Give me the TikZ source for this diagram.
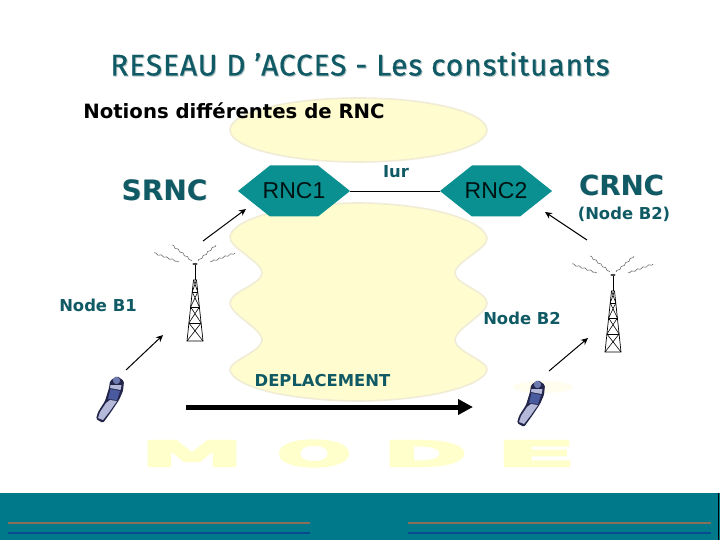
\documentclass[tikz,border=0pt]{standalone}
\usepackage{fontspec}
\setmainfont{DejaVu Sans}
\newfontfamily\titlefont[LetterSpace=3,FakeBold=0.6]{Fira Sans}
\newfontfamily\arialfont{Liberation Sans}
\newfontfamily\wmfont[FakeBold=5]{DejaVu Sans Bold}
\usetikzlibrary{arrows.meta,shapes.symbols,decorations.pathmorphing}
\definecolor{tealdark}{HTML}{0F5A64}
\definecolor{hexfill}{HTML}{0A9090}
\definecolor{band}{HTML}{007A8A}
\definecolor{blob}{HTML}{FFFCD0}
\definecolor{blobedge}{HTML}{F0ECD6}
\definecolor{wm}{HTML}{FFFFCC}
\definecolor{shadowc}{HTML}{B5C4C6}
\definecolor{ph}{HTML}{23264A}
\definecolor{phbody}{HTML}{B4B9DA}
\definecolor{phscreen}{HTML}{4A5A9E}
\definecolor{linebrown}{HTML}{8A6F58}
\definecolor{lineblue}{HTML}{0A4A90}
\newcommand{\hexlabel}[1]{\makebox[48pt][c]{#1}}
\tikzset{
  hexnode/.style={signal,signal to=west and east,signal pointer angle=77,fill=hexfill,inner sep=0pt,
     minimum height=51pt,text=black!85!teal,font=\arialfont\fontsize{23}{23}\selectfont},
  blabel/.style={font=\bfseries\fontsize{#1}{#1}\selectfont,text=tealdark,inner sep=0pt},
  thinarrow/.style={draw=black,line width=1pt,-{Stealth[length=7pt,width=6.5pt]}},
  wmletter/.style={text=wm,font=\wmfont\fontsize{35}{35}\selectfont,inner sep=0pt},
  blobshape/.style={fill=blob,draw=blobedge,line width=1.6pt},
  squiggle/.style={draw=black!65,line width=.5pt,decorate,decoration={zigzag,amplitude=.7pt,segment length=6pt}},
  tower/.pic={
    \draw[line width=.8pt] (0,0)--(0,17);
    \fill[black!70] (0,1) ellipse (2.6pt and 1.1pt);
    \draw[line width=.7pt] (-1.5,17)--(-8,78)--(8,78)--(1.5,17)--cycle;
    \draw[line width=.7pt] (-2.8,29)--(2.8,29) (-4.4,44)--(4.4,44) (-6.1,60)--(6.1,60);
    \draw[line width=.6pt] (-2.8,29)--(4.4,44) (2.8,29)--(-4.4,44) (-4.4,44)--(6.1,60) (4.4,44)--(-6.1,60)
       (-6.1,60)--(8,78) (6.1,60)--(-8,78) (-1.5,17)--(2.8,29) (1.5,17)--(-2.8,29);
    \draw[squiggle] (-41,-10)--(-16,-1);
    \draw[squiggle] (-23,-18)--(-3,-2);
    \draw[squiggle] (21,-18)--(3,-2);
    \draw[squiggle] (40,-10)--(15,-1);
  },
  handset/.pic={
    \fill[ph,rounded corners=1.5pt] (-7,5)--(0,0)--(7,5)--(6,15)--(2,24)--(-6,36)--(-14,47)--(-21,43)--(-19,36)--(-12,25)--(-8,12)--cycle;
    \fill[phbody] (-7,24)--(0,25)--(-7,35)--(-14,44)--(-19,42)--(-17,36)--(-11,27)--cycle;
    \fill[phscreen] (-6.5,13)--(3,15)--(0,24)--(-9,23)--cycle;
    \fill[phbody] (-6.5,9)--(4.5,9)--(3.5,14)--(-7,12)--cycle;
    \fill[phscreen!80!white] (-.5,4.5) circle (3.6pt);
  },
}
\begin{document}
\begin{tikzpicture}[x=1pt,y=-1pt]
\useasboundingbox (0,0) rectangle (720,540);
\fill[white] (0,0) rectangle (720,540);
% pale background shapes
\fill[blobshape] (358.5,130) ellipse (128.5pt and 32pt);
\path[blobshape] plot[smooth cycle,tension=.62] coordinates {(358,203) (445,213) (487,238) (455,273) (487,303) (455,340) (487,370) (445,392) (358,401) (270,392) (230,370) (262,340) (230,303) (262,273) (230,237) (270,213)};
\fill[blob!35!white] (543,387) ellipse (30pt and 6pt);
% watermark
\node[wmletter,xscale=2.95] (wmM) at (192,453.5) {M};
\node[wmletter,xscale=2.5] (wmO) at (314,453.5) {O};
\node[wmletter,xscale=2.9] (wmD) at (425,453.5) {D};
\node[wmletter,xscale=3.35] (wmE) at (536,453.5) {E};
% footer band
\fill[band] (0,493) rectangle (720,540);
\draw[black,line width=.8pt] (718.6,493)--(718.6,540);
\draw[draw=linebrown,line width=1.1pt] (8,523)--(310,523) (408,523)--(711,523);
\draw[draw=lineblue,line width=1.1pt] (8,533)--(310,533) (408,533)--(711,533);
% title and labels
\node[text=shadowc,inner sep=0pt,font=\titlefont\fontsize{29.9}{29.9}\selectfont] at (361,65) {RESEAU D ’ACCES - Les constituants};
\node[text=tealdark,inner sep=0pt,font=\titlefont\fontsize{29.9}{29.9}\selectfont] (title) at (360,64) {RESEAU D ’ACCES - Les constituants};
\node[inner sep=0pt,font=\bfseries\fontsize{19.7}{19.7}\selectfont] (notions) at (234,111) {Notions différentes de RNC};
\node[blabel=28,text=shadowc] at (165.3,190.8) {SRNC};
\node[blabel=28] (srnc) at (164.5,190) {SRNC};
\node[blabel=27.6,text=shadowc] at (622.3,185.8) {CRNC};
\node[blabel=27.6] (crnc) at (621.5,185) {CRNC};
\node[blabel=16.4] (crncsub) at (624,214) {(Node B2)};
\node[blabel=16.4] (nb1) at (98,305) {Node B1};
\node[blabel=16.4] (nb2) at (522,318) {Node B2};
\node[blabel=16.4] (iur) at (396,172) {Iur};
\node[blabel=16.4] (depl) at (322.5,381) {DEPLACEMENT};
% hexagons
\node[hexnode] (rnc1) at (294,191) {\hexlabel{RNC1}};
\node[hexnode] (rnc2) at (496,191) {\hexlabel{RNC2}};
\draw[black,line width=.7pt] (rnc1.east)--(rnc2.west);
% towers and phones
\pic at (195,263) {tower};
\pic at (613,274) {tower};
\pic at (117,376) {handset};
\pic at (538,380) {handset};
% connectors
\coordinate (a1s) at (203,241); \coordinate (a1e) at (246,209);
\coordinate (a2s) at (587,240); \coordinate (a2e) at (545,212);
\coordinate (a3s) at (126,370); \coordinate (a3e) at (163,335);
\coordinate (a4s) at (549,371); \coordinate (a4e) at (588,338);
\coordinate (m1) at (186,407); \coordinate (m2) at (473,407);
\draw[thinarrow] (a1s)--(a1e);
\draw[thinarrow] (a2s)--(a2e);
\draw[thinarrow] (a3s)--(a3e);
\draw[thinarrow] (a4s)--(a4e);
\draw[black,line width=5pt,-{Triangle[length=15pt,width=15pt]}] (m1)--(m2);
\end{tikzpicture}
\end{document}
